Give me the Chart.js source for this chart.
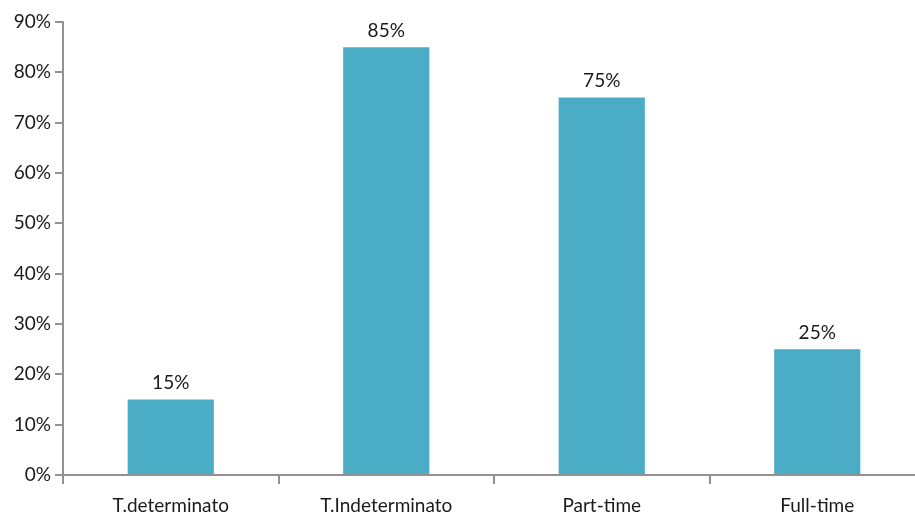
<!DOCTYPE html>
<html>
<head>
<meta charset="utf-8">
<script src="https://cdn.jsdelivr.net/npm/chart.js@4/dist/chart.umd.min.js"></script>
<style>
  html, body { margin: 0; padding: 0; background: #fff; overflow: hidden; }
  /* il grafico è un po' più largo della finestra: l'ultima categoria esce a destra */
  #wrap { width: 925px; height: 516px; position: relative; }
</style>
</head>
<body>
<div id="wrap"><canvas id="grafico"></canvas></div>
<script>
// Dati del grafico
const categorie = ['T.determinato', 'T.Indeterminato', 'Part-time', 'Full-time'];
const valori = [15, 85, 75, 25];
const tickY = [0, 10, 20, 30, 40, 50, 60, 70, 80, 90];

const coloreBarre = '#4BACC6';
const coloreAssi = '#929292';
const font = { family: 'Lato, "Noto Sans", sans-serif', size: 19 };

// Etichette con il valore sopra ogni barra
const etichetteValori = {
    id: 'etichetteValori',
    afterDatasetsDraw(chart) {
        const ctx = chart.ctx;
        const meta = chart.getDatasetMeta(0);
        ctx.save();
        ctx.font = `${font.size}px ${font.family}`;
        ctx.fillStyle = '#1a1a1a';
        ctx.textAlign = 'center';
        ctx.textBaseline = 'bottom';
        meta.data.forEach((bar, i) => {
            ctx.fillText(valori[i] + '%', bar.x, bar.y - 7);
        });
        ctx.restore();
    }
};

new Chart(document.getElementById('grafico'), {
    type: 'bar',
    data: {
        labels: categorie,
        datasets: [{
            data: valori,
            backgroundColor: coloreBarre,
            barPercentage: 0.4,
            categoryPercentage: 1
        }]
    },
    options: {
        responsive: true,
        maintainAspectRatio: false,
        animation: false,
        layout: { padding: { top: 22, right: 0, left: 0, bottom: 0 } },
        plugins: {
            legend: { display: false },
            tooltip: { enabled: false }
        },
        scales: {
            x: {
                grid: {
                    offset: true,
                    drawOnChartArea: false,
                    drawTicks: true,
                    tickLength: 9,
                    color: coloreAssi,
                    lineWidth: 2
                },
                border: { color: coloreAssi, width: 2 },
                ticks: { color: '#1a1a1a', font: font, padding: 10 },
                afterFit(scale) { scale.height = 41; }
            },
            y: {
                min: 0,
                max: 90,
                afterBuildTicks(scale) {
                    scale.ticks = tickY.map(v => ({ value: v }));
                },
                grid: {
                    drawOnChartArea: false,
                    drawTicks: true,
                    tickLength: 8,
                    color: coloreAssi,
                    lineWidth: 2
                },
                border: { color: coloreAssi, width: 2 },
                ticks: {
                    color: '#1a1a1a',
                    font: font,
                    padding: 4,
                    callback: v => v + '%'
                },
                afterFit(scale) { scale.width = 63; }
            }
        }
    },
    plugins: [etichetteValori]
});
</script>
</body>
</html>
